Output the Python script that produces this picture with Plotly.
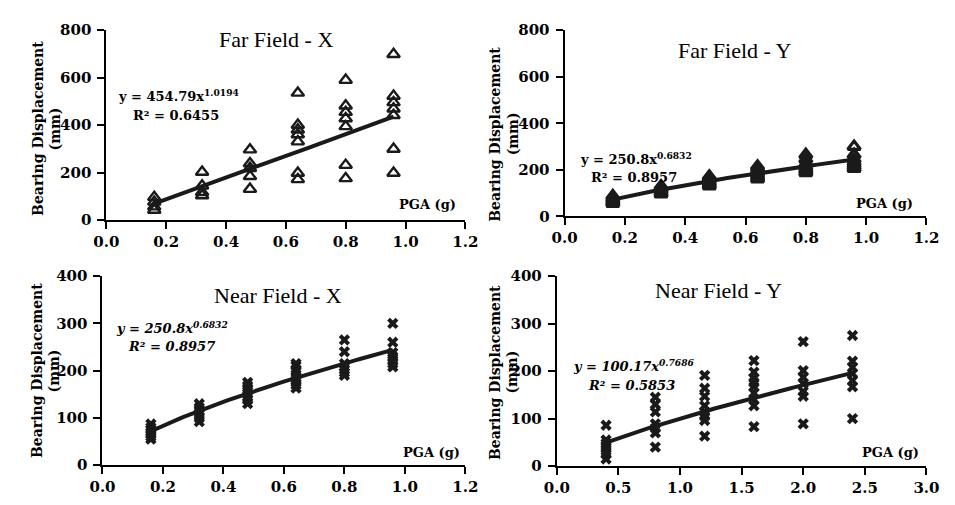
import plotly.graph_objects as go

# ---- data -------------------------------------------------------------
pga_far = [0.16, 0.32, 0.48, 0.64, 0.80, 0.96]
pga_near_y = [0.4, 0.8, 1.2, 1.6, 2.0, 2.4]

# bearing displacement (mm) for each PGA level
far_x_disp = [
    [43, 57, 77, 97],
    [104, 118, 145, 203],
    [131, 185, 219, 239, 297],
    [172, 199, 331, 361, 381, 401, 536],
    [176, 232, 395, 428, 455, 482, 590],
    [199, 300, 442, 469, 496, 523, 699],
]
far_y_disp = [
    [55, 62, 70, 78, 88],
    [95, 103, 112, 120, 130],
    [130, 138, 147, 156, 165, 172],
    [160, 168, 177, 186, 196, 206, 215],
    [187, 195, 203, 212, 225, 245, 265],
    [205, 214, 222, 232, 245, 265, 300],
]
near_x_disp = [
    [55, 60, 65, 70, 75, 80, 87],
    [92, 100, 108, 115, 122, 130],
    [130, 138, 145, 152, 160, 168, 175],
    [163, 170, 178, 185, 192, 200, 210, 215],
    [190, 196, 202, 208, 215, 240, 265],
    [208, 215, 222, 230, 238, 260, 300],
]
near_y_disp = [
    [15, 25, 32, 40, 48, 55, 86],
    [40, 70, 80, 89, 114, 130, 145],
    [63, 96, 105, 114, 127, 147, 164, 191],
    [83, 127, 140, 154, 167, 176, 185, 198, 222],
    [89, 147, 157, 174, 187, 201, 262],
    [100, 167, 180, 195, 208, 221, 275],
]

# power-law fits y = a * x^b
fits = {
    "far_x": (454.79, 1.0194, "0.6455"),
    "far_y": (250.8, 0.6832, "0.8957"),
    "near_x": (250.8, 0.6832, "0.8957"),
    "near_y": (100.17, 0.7686, "0.5853"),
}

titles = ["Far Field - X", "Far Field - Y", "Near Field - X", "Near Field - Y"]

# ---- layout helpers ---------------------------------------------------
W, H = 955, 505
SERIF = "Liberation Serif"
BOLD_SERIF = "DejaVu Serif"


def px(x):
    return x / W


def py(y):
    return 1 - y / H


panels = [
    # key, pga, disp, marker, xaxis, yaxis, x-domain px, y-domain px, x range, y range, dtick x, dtick y
    ("far_x", pga_far, far_x_disp, "triangle-up-open", "x", "y", (96, 465), (22, 219), 1.2, 800, 0.2, 200),
    ("far_y", pga_far, far_y_disp, "triangle-up-open", "x2", "y2", (567, 939), (22, 215), 1.2, 800, 0.2, 200),
    ("near_x", pga_far, near_x_disp, "x", "x3", "y3", (92, 465), (277, 473), 1.2, 400, 0.2, 100),
    ("near_y", pga_near_y, near_y_disp, "x", "x4", "y4", (559, 939), (277, 474), 3.0, 400, 0.5, 100),
]

fig = go.Figure()
layout = {}

for key, pga, disp, sym, xa, ya, (xl, xr), (yt, yb), xmax, ymax, dtx, dty in panels:
    xs = [p for p, vals in zip(pga, disp) for _ in vals]
    ys = [v for vals in disp for v in vals]
    if sym.startswith("triangle"):
        lw = 2.4 if key == "far_x" else 3.2
        marker = dict(symbol=sym, size=11, color="#1a1a1a", line=dict(width=lw, color="#1a1a1a"))
    else:
        marker = dict(symbol=sym, size=10, color="#1a1a1a", line=dict(width=0))
    fig.add_trace(go.Scatter(x=xs, y=ys, mode="markers", marker=marker,
                             xaxis=xa, yaxis=ya, showlegend=False))

    a, b, r2 = fits[key]
    x0, x1 = min(pga), max(pga)
    n = 60
    fx = [x0 + (x1 - x0) * i / (n - 1) for i in range(n)]
    fy = [a * v ** b for v in fx]
    fig.add_trace(go.Scatter(x=fx, y=fy, mode="lines", line=dict(color="#1a1a1a", width=4),
                             xaxis=xa, yaxis=ya, showlegend=False))

    xname = "xaxis" if xa == "x" else "xaxis" + xa[1:]
    yname = "yaxis" if ya == "y" else "yaxis" + ya[1:]
    tickfont = dict(family=BOLD_SERIF, size=15, color="black", weight="bold")
    layout[xname] = dict(
        domain=[px(xl), px(xr)], anchor=ya, range=[0, xmax], dtick=dtx, tick0=0,
        tickformat=".1f", showline=True, linecolor="black", linewidth=2,
        ticks="outside", ticklen=7, tickwidth=2, tickcolor="black",
        showgrid=False, zeroline=False, tickfont=tickfont,
    )
    layout[yname] = dict(
        domain=[py(yb), py(yt)], anchor=xa, range=[0, ymax], dtick=dty, tick0=0,
        showline=True, linecolor="black", linewidth=2,
        ticks="outside", ticklen=7, tickwidth=2, tickcolor="black",
        showgrid=False, zeroline=False, tickfont=tickfont, ticklabelstandoff=3,
    )

fig.update_layout(
    width=W, height=H, margin=dict(l=0, r=0, t=0, b=0),
    paper_bgcolor="white", plot_bgcolor="white", **layout,
)

ann = []
title_font = dict(family=SERIF, size=22, color="black")
for t, (x, y) in zip(titles, [(270, 32), (742, 43), (272, 297), (725, 292)]):
    ann.append(dict(text=t, x=px(x), y=py(y), xanchor="center", yanchor="middle", font=title_font))

# equation labels
eq_font = dict(family=BOLD_SERIF, size=13, color="black")
eq_pos = {
    "far_x": ((106, 90), (121, 110), False),
    "far_y": ((581, 155), (592, 175), False),
    "near_x": ((104, 330), (116, 350), True),
    "near_y": ((574, 370), (589, 390), True),
}
for key, ((ex, ey), (rx, ry), ital) in eq_pos.items():
    a, b, r2 = fits[key]
    eq = f"y = {a:g}x<sup>{b:.4f}</sup>"
    rr = f"R² = {r2}"
    if ital:
        eq, rr = f"<i>{eq}</i>", f"<i>{rr}</i>"
    ann.append(dict(text=f"<b>{eq}</b>", x=px(ex), y=py(ey), xanchor="left", align="left",
                    yanchor="middle", font=eq_font))
    ann.append(dict(text=f"<b>{rr}</b>", x=px(rx), y=py(ry), xanchor="left", align="left",
                    yanchor="middle", font=eq_font))

# x-axis labels placed inside the plots
lab_font = dict(family=BOLD_SERIF, size=13, color="black")
for x, y in [(457, 203), (927, 202), (462, 460), (933, 460)]:
    ann.append(dict(text="<b>PGA (g)</b>", x=px(x), y=py(y), xanchor="right", align="right",
                    yanchor="middle", font=lab_font))

# y-axis titles, one annotation per line
ylab_font = dict(family=BOLD_SERIF, size=14, color="black")
for (x1, x2, y) in [(25, 43, 124), (496, 514, 130), (24, 42, 375), (495, 513, 377)]:
    ann.append(dict(text="<b>Bearing Displacement</b>", x=px(x1), y=py(y), textangle=-90,
                    xanchor="center", yanchor="middle", font=ylab_font))
    ann.append(dict(text="<b>(mm)</b>", x=px(x2), y=py(y), textangle=-90,
                    xanchor="center", yanchor="middle", font=ylab_font))

for a_ in ann:
    a_.update(xref="paper", yref="paper", showarrow=False)
fig.update_layout(annotations=ann)

fig.write_html("out.html")
